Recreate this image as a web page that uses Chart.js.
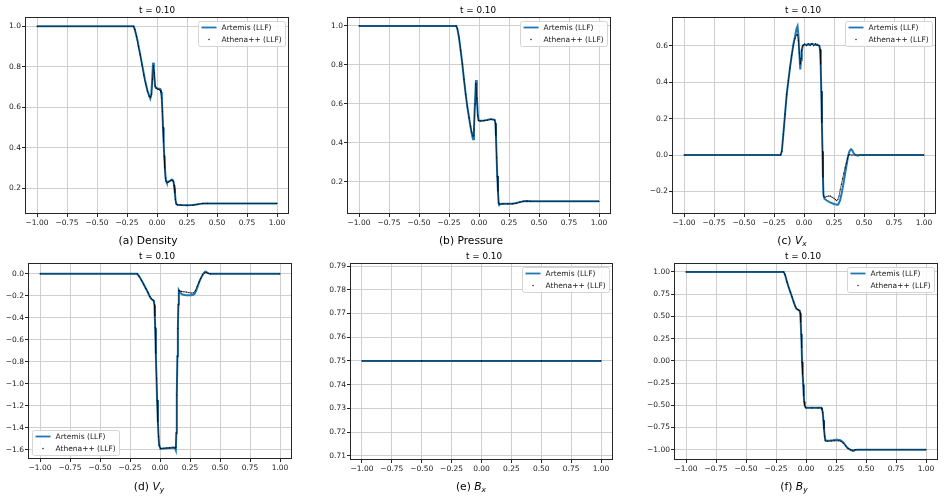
<!DOCTYPE html>
<html>
<head>
<meta charset="utf-8">
<script src="https://cdn.jsdelivr.net/npm/chart.js@4.4.1/dist/chart.umd.min.js"></script>
<style>
  html, body { margin:0; padding:0; background:#fff; }
  body { width:945px; height:500px; position:relative; overflow:hidden; font-family:"DejaVu Sans", sans-serif; }
  canvas { position:absolute; }
  .lbl { position:absolute; transform:translate(-50%,-50%); white-space:nowrap; line-height:1; color:#000; }
  .ttl { font-size:8.8px; }
  .cap { font-size:10.7px; }
  .cap i { font-style:italic; }
  .cap sub { font-style:italic; font-size:0.7em; vertical-align:-0.3em; line-height:0; }
</style>
</head>
<body>
<canvas id="ca"></canvas><canvas id="cb"></canvas><canvas id="cc"></canvas>
<canvas id="cd"></canvas><canvas id="ce"></canvas><canvas id="cf"></canvas>

<div class="lbl ttl" style="left:157px;top:10px">t = 0.10</div>
<div class="lbl ttl" style="left:478px;top:10px">t = 0.10</div>
<div class="lbl ttl" style="left:803px;top:10px">t = 0.10</div>
<div class="lbl ttl" style="left:157px;top:256px">t = 0.10</div>
<div class="lbl ttl" style="left:484px;top:256px">t = 0.10</div>
<div class="lbl ttl" style="left:803px;top:256px">t = 0.10</div>

<div class="lbl cap" style="left:148px;top:241px">(a) Density</div>
<div class="lbl cap" style="left:471px;top:241px">(b) Pressure</div>
<div class="lbl cap" style="left:792px;top:241px">(c) <i>V</i><sub>x</sub></div>
<div class="lbl cap" style="left:149px;top:487px">(d) <i>V</i><sub>y</sub></div>
<div class="lbl cap" style="left:471px;top:487px">(e) <i>B</i><sub>x</sub></div>
<div class="lbl cap" style="left:794px;top:487px">(f) <i>B</i><sub>y</sub></div>

<script>
// ---------------- data ----------------
const legendLabels = ["Artemis (LLF)", "Athena++ (LLF)"];
const xTickValues = [-1, -0.75, -0.5, -0.25, 0, 0.25, 0.5, 0.75, 1];

// (a) Density
const densArtX = [-1, -0.195, -0.185, -0.161, -0.14, -0.119, -0.1, -0.078, -0.064, -0.056, -0.048, -0.04, -0.033, -0.026, -0.017, -0.008, 0.006, 0.02, 0.028, 0.035, 0.04, 0.045, 0.05, 0.055, 0.061, 0.068, 0.075, 0.082, 0.089, 0.1, 0.111, 0.125, 0.133, 0.139, 0.145, 0.15, 0.155, 0.161, 0.172, 0.2, 0.25, 0.3, 0.33, 0.36, 0.39, 0.42, 1];
const densArtY = [1, 1, 0.985, 0.926, 0.86, 0.795, 0.735, 0.68, 0.655, 0.643, 0.66, 0.74, 0.82, 0.79, 0.705, 0.695, 0.693, 0.692, 0.69, 0.675, 0.645, 0.58, 0.5, 0.43, 0.352, 0.28, 0.238, 0.228, 0.23, 0.234, 0.238, 0.243, 0.238, 0.23, 0.2, 0.172, 0.14, 0.123, 0.118, 0.117, 0.116, 0.117, 0.12, 0.123, 0.125, 0.125, 0.125];
const densAthX = [-1, -0.195, -0.185, -0.17, -0.155, -0.14, -0.125, -0.11, -0.095, -0.08, -0.065, -0.055, -0.045, -0.037, -0.03, -0.022, -0.015, -0.005, 0.005, 0.015, 0.025, 0.033, 0.04, 0.045, 0.05, 0.055, 0.06, 0.065, 0.07, 0.075, 0.085, 0.1, 0.115, 0.125, 0.135, 0.142, 0.148, 0.154, 0.16, 0.17, 0.2, 0.25, 0.3, 0.34, 0.38, 0.42, 1];
const densAthY = [1, 1, 0.985, 0.95, 0.9, 0.86, 0.81, 0.76, 0.715, 0.68, 0.655, 0.65, 0.665, 0.74, 0.805, 0.77, 0.705, 0.695, 0.69, 0.688, 0.685, 0.675, 0.645, 0.58, 0.5, 0.43, 0.36, 0.3, 0.25, 0.235, 0.228, 0.232, 0.238, 0.24, 0.235, 0.215, 0.18, 0.145, 0.122, 0.118, 0.117, 0.116, 0.117, 0.121, 0.125, 0.125, 0.125];

// (b) Pressure
const presArtX = [-1, -0.19, -0.18, -0.167, -0.153, -0.139, -0.125, -0.111, -0.097, -0.083, -0.07, -0.06, -0.05, -0.042, -0.033, -0.025, -0.018, -0.01, -0.004, 0.008, 0.042, 0.07, 0.097, 0.131, 0.137, 0.141, 0.147, 0.152, 0.158, 0.164, 0.168, 0.175, 0.2, 0.236, 0.28, 0.31, 0.34, 0.37, 0.4, 0.43, 1];
const presArtY = [1, 1, 0.985, 0.942, 0.875, 0.805, 0.725, 0.65, 0.585, 0.53, 0.48, 0.445, 0.419, 0.47, 0.62, 0.722, 0.64, 0.545, 0.515, 0.514, 0.515, 0.518, 0.522, 0.518, 0.5, 0.44, 0.325, 0.23, 0.153, 0.09, 0.081, 0.086, 0.088, 0.088, 0.088, 0.091, 0.096, 0.1, 0.102, 0.1, 0.1];
const presAthX = [-1, -0.19, -0.18, -0.167, -0.153, -0.139, -0.125, -0.111, -0.097, -0.083, -0.07, -0.06, -0.05, -0.042, -0.033, -0.026, -0.018, -0.01, -0.004, 0.01, 0.04, 0.07, 0.1, 0.13, 0.137, 0.141, 0.147, 0.152, 0.158, 0.164, 0.17, 0.2, 0.24, 0.28, 0.31, 0.34, 0.37, 0.4, 0.43, 1];
const presAthY = [1, 1, 0.985, 0.942, 0.875, 0.805, 0.725, 0.65, 0.585, 0.53, 0.485, 0.455, 0.435, 0.47, 0.6, 0.705, 0.63, 0.54, 0.515, 0.512, 0.514, 0.517, 0.52, 0.517, 0.5, 0.44, 0.325, 0.23, 0.153, 0.092, 0.086, 0.087, 0.087, 0.088, 0.09, 0.096, 0.1, 0.101, 0.1, 0.1];

// (c) Vx
const vxArtX = [-1, -0.195, -0.185, -0.172, -0.158, -0.144, -0.13, -0.117, -0.103, -0.089, -0.075, -0.062, -0.054, -0.047, -0.039, -0.031, -0.025, -0.019, -0.012, -0.006, 0.01, 0.03, 0.05, 0.07, 0.09, 0.11, 0.128, 0.134, 0.139, 0.144, 0.149, 0.154, 0.158, 0.162, 0.17, 0.19, 0.217, 0.24, 0.258, 0.275, 0.285, 0.3, 0.314, 0.328, 0.342, 0.356, 0.369, 0.38, 0.392, 0.402, 0.411, 0.421, 0.431, 0.45, 0.46, 1];
const vxArtY = [0, 0, 0.02, 0.114, 0.225, 0.333, 0.41, 0.479, 0.545, 0.607, 0.65, 0.695, 0.708, 0.662, 0.56, 0.47, 0.52, 0.571, 0.595, 0.604, 0.606, 0.605, 0.608, 0.611, 0.606, 0.607, 0.6, 0.58, 0.5, 0.35, 0.18, 0.02, -0.12, -0.215, -0.24, -0.25, -0.26, -0.266, -0.27, -0.273, -0.272, -0.251, -0.21, -0.16, -0.105, -0.05, 0.0, 0.022, 0.032, 0.026, 0.014, 0.004, 0.0, -0.004, 0, 0];
const vxAthX = [-1, -0.195, -0.185, -0.172, -0.158, -0.144, -0.13, -0.117, -0.103, -0.089, -0.075, -0.062, -0.054, -0.047, -0.039, -0.031, -0.025, -0.019, -0.012, -0.006, 0.005, 0.02, 0.035, 0.05, 0.065, 0.08, 0.095, 0.11, 0.128, 0.134, 0.139, 0.144, 0.149, 0.154, 0.158, 0.162, 0.175, 0.19, 0.205, 0.22, 0.235, 0.25, 0.262, 0.272, 0.282, 0.292, 0.302, 0.312, 0.322, 0.332, 0.342, 0.352, 0.362, 0.372, 0.38, 0.4, 1];
const vxAthY = [0, 0, 0.02, 0.114, 0.225, 0.333, 0.41, 0.479, 0.545, 0.6, 0.64, 0.66, 0.66, 0.63, 0.56, 0.5, 0.53, 0.575, 0.598, 0.603, 0.61, 0.6, 0.612, 0.602, 0.61, 0.6, 0.61, 0.603, 0.6, 0.58, 0.5, 0.35, 0.18, 0.02, -0.12, -0.225, -0.232, -0.228, -0.225, -0.226, -0.232, -0.238, -0.245, -0.25, -0.245, -0.225, -0.19, -0.16, -0.13, -0.1, -0.07, -0.045, -0.02, 0.0, 0.002, 0, 0];

// (d) Vy
const vyArtX = [-1, -0.19, -0.175, -0.154, -0.136, -0.118, -0.1, -0.085, -0.072, -0.06, -0.051, -0.046, -0.043, -0.04, -0.035, -0.029, -0.024, -0.018, -0.012, -0.007, 0.004, 0.03, 0.054, 0.08, 0.11, 0.124, 0.132, 0.136, 0.14, 0.145, 0.149, 0.153, 0.157, 0.165, 0.175, 0.188, 0.205, 0.221, 0.24, 0.263, 0.28, 0.29, 0.304, 0.318, 0.332, 0.346, 0.36, 0.374, 0.383, 0.393, 0.405, 0.416, 1];
const vyArtY = [0, 0, -0.02, -0.058, -0.095, -0.133, -0.17, -0.209, -0.23, -0.24, -0.248, -0.29, -0.4, -0.497, -0.72, -0.952, -1.15, -1.345, -1.48, -1.558, -1.594, -1.59, -1.588, -1.585, -1.582, -1.582, -1.606, -1.45, -1.103, -0.75, -0.497, -0.28, -0.148, -0.164, -0.178, -0.188, -0.192, -0.194, -0.195, -0.194, -0.188, -0.179, -0.145, -0.103, -0.06, -0.027, 0.0, 0.018, 0.02, 0.012, 0.004, 0, 0];
const vyAthX = [-1, -0.19, -0.175, -0.154, -0.136, -0.118, -0.1, -0.085, -0.072, -0.06, -0.051, -0.046, -0.043, -0.04, -0.035, -0.029, -0.024, -0.018, -0.012, -0.007, 0.004, 0.03, 0.054, 0.08, 0.11, 0.128, 0.132, 0.136, 0.14, 0.145, 0.149, 0.153, 0.157, 0.165, 0.18, 0.2, 0.22, 0.24, 0.26, 0.28, 0.295, 0.31, 0.325, 0.34, 0.355, 0.37, 0.385, 0.4, 0.42, 1];
const vyAthY = [0, 0, -0.02, -0.058, -0.095, -0.133, -0.17, -0.205, -0.225, -0.235, -0.245, -0.28, -0.38, -0.49, -0.72, -0.952, -1.15, -1.345, -1.48, -1.56, -1.59, -1.588, -1.586, -1.585, -1.585, -1.585, -1.58, -1.45, -1.103, -0.75, -0.497, -0.28, -0.15, -0.155, -0.16, -0.163, -0.166, -0.17, -0.175, -0.172, -0.15, -0.115, -0.075, -0.04, -0.01, 0.008, 0.012, 0.005, 0, 0];

// (e) Bx
const bxArtX = [-1, -0.5, 0, 0.5, 1];
const bxArtY = [0.75, 0.75, 0.75, 0.75, 0.75];
const bxAthX = [-1, -0.5, 0, 0.5, 1];
const bxAthY = [0.75, 0.75, 0.75, 0.75, 0.75];

// (f) By
const byArtX = [-1, -0.186, -0.175, -0.158, -0.145, -0.131, -0.117, -0.103, -0.09, -0.081, -0.07, -0.061, -0.052, -0.048, -0.044, -0.04, -0.036, -0.033, -0.028, -0.023, -0.019, -0.015, -0.011, -0.005, 0, 0.05, 0.1, 0.128, 0.133, 0.139, 0.145, 0.15, 0.156, 0.161, 0.175, 0.2, 0.225, 0.244, 0.265, 0.286, 0.3, 0.314, 0.328, 0.342, 0.356, 0.369, 0.379, 0.389, 0.4, 0.411, 0.43, 1];
const byArtY = [1, 1, 0.97, 0.887, 0.83, 0.775, 0.72, 0.662, 0.615, 0.587, 0.575, 0.569, 0.56, 0.53, 0.437, 0.3, 0.15, -0.013, -0.15, -0.27, -0.388, -0.46, -0.5, -0.52, -0.527, -0.527, -0.527, -0.527, -0.545, -0.575, -0.67, -0.763, -0.85, -0.894, -0.9, -0.897, -0.893, -0.887, -0.887, -0.894, -0.905, -0.925, -0.95, -0.975, -0.99, -1.0, -1.008, -1.014, -1.012, -1.003, -1.0, -1.0];
const byAthX = [-1, -0.186, -0.175, -0.158, -0.145, -0.131, -0.117, -0.103, -0.09, -0.081, -0.07, -0.061, -0.052, -0.048, -0.044, -0.04, -0.036, -0.033, -0.028, -0.023, -0.019, -0.015, -0.011, -0.005, 0, 0.05, 0.1, 0.128, 0.133, 0.139, 0.145, 0.15, 0.156, 0.161, 0.18, 0.21, 0.24, 0.27, 0.29, 0.31, 0.33, 0.35, 0.37, 0.39, 0.41, 1];
const byAthY = [1, 1, 0.97, 0.887, 0.83, 0.775, 0.72, 0.662, 0.615, 0.59, 0.578, 0.572, 0.565, 0.54, 0.44, 0.3, 0.15, -0.013, -0.15, -0.27, -0.388, -0.46, -0.5, -0.52, -0.53, -0.53, -0.53, -0.53, -0.548, -0.578, -0.67, -0.763, -0.85, -0.9, -0.905, -0.902, -0.9, -0.9, -0.905, -0.925, -0.955, -0.985, -1.0, -1.005, -1.0, -1.0];

// y ticks per panel
const densYTicks = [0.2, 0.4, 0.6, 0.8, 1.0];
const presYTicks = [0.2, 0.4, 0.6, 0.8, 1.0];
const vxYTicks = [-0.2, 0.0, 0.2, 0.4, 0.6];
const vyYTicks = [0.0, -0.2, -0.4, -0.6, -0.8, -1.0, -1.2, -1.4, -1.6];
const bxYTicks = [0.71, 0.72, 0.73, 0.74, 0.75, 0.76, 0.77, 0.78, 0.79];
const byYTicks = [1.0, 0.75, 0.5, 0.25, 0.0, -0.25, -0.5, -0.75, -1.0];

// ---------------- drawing ----------------
const FONT = '"DejaVu Sans", sans-serif';
const BLUE = '#1f77b4';

function fmt(v, d) {
  const s = Math.abs(v).toFixed(d);
  return (v < -1e-9 ? '\u2212' : '') + s;
}
function pts(xs, ys) { return xs.map((x, i) => ({ x: x, y: ys[i] })); }

const framePlugin = {
  id: 'frame',
  afterDraw(chart, args, opts) {
    const ctx = chart.ctx, a = chart.chartArea;
    ctx.save();
    ctx.strokeStyle = '#262626';
    ctx.lineWidth = 1;
    ctx.strokeRect(Math.round(a.left) + 0.5, Math.round(a.top) + 0.5,
                   Math.round(a.right - a.left) - 1, Math.round(a.bottom - a.top) - 1);
    // legend
    const w = 87, h = 25;
    const bx = opts.pos === 'bl' ? a.left + 4 : a.right - 4 - w;
    const by = opts.pos === 'bl' ? a.bottom - 4 - h : a.top + 4;
    ctx.beginPath();
    if (ctx.roundRect) ctx.roundRect(bx + 0.5, by + 0.5, w, h, 2); else ctx.rect(bx + 0.5, by + 0.5, w, h);
    ctx.fillStyle = 'rgba(255,255,255,0.85)';
    ctx.fill();
    ctx.strokeStyle = '#d4d4d4';
    ctx.lineWidth = 1;
    ctx.stroke();
    const r1 = by + 6.5, r2 = by + 18.5;
    ctx.beginPath();
    ctx.strokeStyle = BLUE; ctx.lineWidth = 1.8;
    ctx.moveTo(bx + 3.5, r1); ctx.lineTo(bx + 18.5, r1); ctx.stroke();
    ctx.beginPath();
    ctx.fillStyle = '#000';
    ctx.arc(bx + 11, r2, 0.7, 0, Math.PI * 2); ctx.fill();
    ctx.font = '7.5px ' + FONT;
    ctx.fillStyle = '#1a1a1a';
    ctx.textBaseline = 'middle';
    ctx.textAlign = 'left';
    ctx.fillText(legendLabels[0], bx + 23.5, r1 + 0.5);
    ctx.fillText(legendLabels[1], bx + 23.5, r2 + 0.5);
    ctx.restore();
  }
};

function makePanel(id, L, R, T, B, ymin, ymax, yTicks, yDec, artX, artY, athX, athY, legendPos) {
  const YW = 40, PT = 10, PR = 20, XH = 30;
  const cv = document.getElementById(id);
  const W = (R - L) + YW + PR, H = (B - T) + PT + XH;
  cv.width = W; cv.height = H;
  cv.style.width = W + 'px'; cv.style.height = H + 'px';
  cv.style.left = (L - YW) + 'px'; cv.style.top = (T - PT) + 'px';
  const tickFont = { family: FONT, size: 7.5 };
  const grid = { color: '#cfcfcf', lineWidth: 1, drawTicks: true, tickLength: 3, tickColor: '#262626', tickWidth: 1 };
  new Chart(cv, {
    type: 'scatter',
    data: {
      datasets: [
        { label: legendLabels[0], data: pts(artX, artY), showLine: true, borderColor: BLUE, borderWidth: 2,
          pointRadius: 0, fill: false, tension: 0, order: 2 },
        { label: legendLabels[1], data: pts(athX, athY), showLine: true, borderColor: 'rgba(0,0,0,0.85)', borderWidth: 0.7,
          pointRadius: 0.6, pointBackgroundColor: '#000', pointBorderWidth: 0, fill: false, tension: 0, order: 1 }
      ]
    },
    options: {
      responsive: false, animation: false, devicePixelRatio: 1, events: [],
      layout: { padding: { left: 0, right: PR, top: PT, bottom: 0 } },
      plugins: { legend: { display: false }, tooltip: { enabled: false }, title: { display: false },
                 frame: { pos: legendPos } },
      scales: {
        x: { type: 'linear', min: -1.1, max: 1.1,
             afterBuildTicks: s => { s.ticks = xTickValues.map(v => ({ value: v })); },
             afterFit: s => { s.height = XH; },
             ticks: { callback: v => fmt(v, 2), font: tickFont, color: '#1a1a1a', padding: 2, maxRotation: 0, autoSkip: false },
             grid: grid, border: { display: false } },
        y: { type: 'linear', min: ymin, max: ymax,
             afterBuildTicks: s => { s.ticks = yTicks.map(v => ({ value: v })); },
             afterFit: s => { s.width = YW; },
             ticks: { callback: v => fmt(v, yDec), font: tickFont, color: '#1a1a1a', padding: 1, autoSkip: false },
             grid: grid, border: { display: false } }
      }
    },
    plugins: [framePlugin]
  });
}

makePanel('ca', 25, 289, 17, 214, 0.073, 1.046, densYTicks, 1, densArtX, densArtY, densAthX, densAthY, 'tr');
makePanel('cb', 347, 611, 17, 214, 0.035, 1.046, presYTicks, 1, presArtX, presArtY, presAthX, presAthY, 'tr');
makePanel('cc', 672, 936, 17, 214, -0.324, 0.758, vxYTicks, 1, vxArtX, vxArtY, vxAthX, vxAthY, 'tr');
makePanel('cd', 28, 292, 263, 459, -1.686, 0.099, vyYTicks, 1, vyArtX, vyArtY, vyAthX, vyAthY, 'bl');
makePanel('ce', 350, 613, 263, 460, 0.7082, 0.7913, bxYTicks, 2, bxArtX, bxArtY, bxAthX, bxAthY, 'tr');
makePanel('cf', 674, 938, 263, 460, -1.116, 1.1, byYTicks, 2, byArtX, byArtY, byAthX, byAthY, 'tr');
</script>
</body>
</html>
